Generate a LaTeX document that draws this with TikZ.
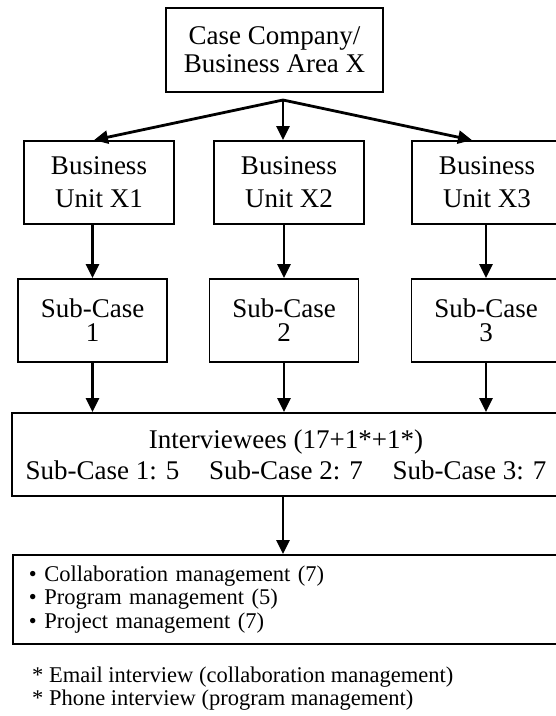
\documentclass[tikz,border=0pt]{standalone}
\usepackage{fontspec}
\setmainfont{Liberation Serif}
\usetikzlibrary{arrows.meta,calc}
\begin{document}
\begin{tikzpicture}[x=1pt,y=-1pt,
  box/.style={draw, line width=1.8pt, inner sep=0pt, align=center},
  bigtext/.style={font=\fontsize{27}{#1}\selectfont},
  smalltext/.style={font=\fontsize{22.5}{23.5}\selectfont},
  arr/.style={line width=2.8pt, -{Triangle[length=14pt,width=13pt]}}]
\useasboundingbox (0,0) rectangle (556,716);
\clip (0,0) rectangle (556,716);

% company level
\node[box, bigtext=28, minimum width=217pt, minimum height=84pt] (top) at (274.5,50)
  {Case Company/\\Business Area X};
\coordinate (hub) at (283,100);

% business units
\node[box, bigtext=33, minimum width=150pt, minimum height=83pt] (bu1) at (99,182.5) {Business\\Unit X1};
\node[box, bigtext=33, minimum width=150pt, minimum height=83pt] (bu2) at (289,182.5) {Business\\Unit X2};
\node[box, bigtext=33, minimum width=150pt, minimum height=83pt] (bu3) at (487,182.5) {Business\\Unit X3};

% sub-cases
\node[box, bigtext=24, minimum width=149pt, minimum height=83pt] (sc1) at (92.5,320.5) {Sub-Case\\1};
\node[box, bigtext=24, minimum width=149pt, minimum height=83pt] (sc2) at (284,320.5) {Sub-Case\\2};
\node[box, bigtext=24, minimum width=149pt, minimum height=83pt] (sc3) at (486,320.5) {Sub-Case\\3};

% interviewees
\node[box, bigtext=31, minimum width=548pt, minimum height=83pt] (int) at (286,454.5)
  {Interviewees (17+1*+1*)\\Sub-Case 1: 5\hspace{1.1em}Sub-Case 2: 7\hspace{1.1em}Sub-Case 3: 7};

% roles
\node[box, smalltext, anchor=north west, minimum width=548pt, minimum height=89pt,
  text width=520pt, align=left, inner xsep=16pt] (list) at (12,554)
  {• Collaboration management (7)\\• Program management (5)\\• Project management (7)};

% footnotes
\node[smalltext, anchor=west, align=left, inner sep=0pt] (notes) at (32,688.5)
  {* Email interview (collaboration management)\\* Phone interview (program management)};

% connectors
\draw[arr] (hub) -- ([xshift=-5pt]bu1.north);
\draw[arr] (hub) -- (hub |- bu2.north);
\draw[arr] (hub) -- ([xshift=-15pt]bu3.north);

\draw[arr] (sc1 |- bu1.south) -- (sc1.north);
\draw[arr] (sc2 |- bu2.south) -- (sc2.north);
\draw[arr] (sc3 |- bu3.south) -- (sc3.north);

\draw[arr] (sc1.south) -- (sc1.south |- int.north);
\draw[arr] (sc2.south) -- (sc2.south |- int.north);
\draw[arr] (sc3.south) -- (sc3.south |- int.north);

\draw[arr] (hub |- int.south) -- (hub |- list.north);
\end{tikzpicture}
\end{document}
